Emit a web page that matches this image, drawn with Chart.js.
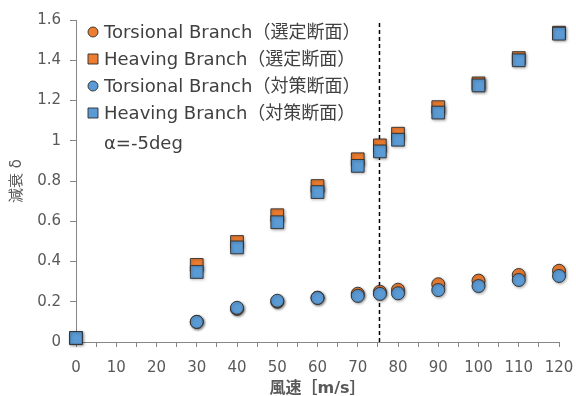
<!DOCTYPE html>
<html>
<head>
<meta charset="utf-8">
<script src="https://cdn.jsdelivr.net/npm/chart.js@4"></script>
<style>
  html, body { margin: 0; padding: 0; background: #fff; }
  #wrap { width: 576px; height: 396px; }
</style>
</head>
<body>
<div id="wrap"><canvas id="c"></canvas></div>
<script>
// wind speed [m/s]
const speeds = [0, 30, 40, 50, 60, 70, 75.5, 80, 90, 100, 110, 120];
// damping δ
const torsionSel = [null, 0.10, 0.165, 0.20, 0.22, 0.24, 0.25, 0.26, 0.287, 0.305, 0.333, 0.354];
const heaveSel   = [0.02, 0.383, 0.497, 0.63, 0.775, 0.908, 0.977, 1.035, 1.167, 1.285, 1.411, 1.537];
const torsionCtr = [null, 0.10, 0.17, 0.205, 0.219, 0.229, 0.239, 0.242, 0.258, 0.278, 0.308, 0.328];
const heaveCtr   = [0.02, 0.348, 0.47, 0.595, 0.745, 0.875, 0.947, 1.005, 1.14, 1.275, 1.40, 1.532];
const criticalSpeed = 75.4;
const yTicks = [0, 0.2, 0.4, 0.6, 0.8, 1, 1.2, 1.4, 1.6];
const legendNote = 'α=-5deg';

const FONT = "'DejaVu Sans', 'Noto Sans CJK JP', sans-serif";
const ORANGE = '#ED7D31', BLUE = '#5B9BD5', EDGE = 'rgba(45,45,45,0.9)';

const pts = (ys) => speeds.map((x, i) => ({ x: x, y: ys[i] })).filter(p => p.y !== null);

function series(label, ys, color, style, order) {
  return {
    label: label, data: pts(ys), showLine: false, clip: false, order: order,
    pointStyle: style, pointRadius: style === 'rect' ? 9 : 6.5,
    pointBackgroundColor: color, pointBorderColor: EDGE, pointBorderWidth: 1,
    inLegend: true
  };
}

// soft shadow under the markers like the spreadsheet original
const markerShadow = {
  id: 'markerShadow',
  beforeDatasetDraw(chart, args) {
    const ds = chart.data.datasets[args.index];
    if (!ds.inLegend) return;
    const ctx = chart.ctx;
    ctx.save();
    ctx.shadowColor = 'rgba(0,0,0,0.35)';
    ctx.shadowBlur = 3;
    ctx.shadowOffsetX = 1;
    ctx.shadowOffsetY = 1;
  },
  afterDatasetDraw(chart, args) {
    const ds = chart.data.datasets[args.index];
    if (ds.inLegend) chart.ctx.restore();
  }
};

// legend inside the plot, top-left
const innerLegend = {
  id: 'innerLegend',
  afterDraw(chart) {
    const ctx = chart.ctx;
    const x0 = 93, y0 = 32, step = 27;
    ctx.save();
    ctx.font = '18px ' + FONT;
    ctx.textBaseline = 'middle';
    ctx.textAlign = 'left';
    const items = chart.data.datasets.filter(d => d.inLegend);
    items.forEach((d, i) => {
      const y = y0 + i * step;
      ctx.fillStyle = d.pointBackgroundColor;
      ctx.strokeStyle = EDGE;
      ctx.lineWidth = 1;
      ctx.beginPath();
      if (d.pointStyle === 'rect') ctx.rect(x0 - 5, y - 5, 10, 10);
      else ctx.arc(x0, y, 5, 0, Math.PI * 2);
      ctx.fill();
      ctx.stroke();
      ctx.fillStyle = '#404040';
      ctx.fillText(d.label, 104, y + 1);
    });
    ctx.fillText(legendNote, 104, y0 + items.length * step + 4);
    ctx.restore();
  }
};

new Chart(document.getElementById('c'), {
  type: 'scatter',
  data: {
    datasets: [
      series('Torsional Branch（選定断面）', torsionSel, ORANGE, 'circle', 4),
      series('Heaving Branch（選定断面）', heaveSel, ORANGE, 'rect', 3),
      series('Torsional Branch（対策断面）', torsionCtr, BLUE, 'circle', 2),
      series('Heaving Branch（対策断面）', heaveCtr, BLUE, 'rect', 1),
      {
        label: 'critical', type: 'line', order: 5,
        data: [{ x: criticalSpeed, y: 0 }, { x: criticalSpeed, y: 1.6 }],
        borderColor: '#000', borderWidth: 1.5, borderDash: [4, 3], pointRadius: 0, clip: false
      }
    ]
  },
  options: {
    responsive: true, maintainAspectRatio: false, animation: false,
    layout: { padding: { top: 20, right: 17, left: 0, bottom: 0 } },
    plugins: { legend: { display: false }, tooltip: { enabled: false } },
    scales: {
      x: {
        type: 'linear', min: 0, max: 120,
        afterFit: (s) => { s.height = 54; s.paddingLeft = 0; s.paddingRight = 0; },
        grid: { drawOnChartArea: false, color: '#868686', tickLength: 5 },
        border: { color: '#868686', width: 1 },
        ticks: {
          stepSize: 5, autoSkip: false, maxRotation: 0, padding: 12,
          color: '#595959', font: { family: FONT, size: 15 },
          callback: (v) => (v % 10 === 0 ? String(v) : '')
        },
        title: {
          display: true, text: '風速［m/s］', color: '#595959',
          font: { family: FONT, size: 16, weight: 'bold' }, padding: { top: 0, bottom: -2 }
        }
      },
      y: {
        type: 'linear', min: 0, max: 1.6,
        afterFit: (s) => { s.width = 76; s.paddingTop = 0; s.paddingBottom = 0; },
        afterBuildTicks: (s) => { s.ticks = yTicks.map(v => ({ value: v })); },
        grid: { drawOnChartArea: false, color: '#868686', tickLength: 6 },
        border: { color: '#868686', width: 1 },
        ticks: {
          padding: 9, color: '#595959', font: { family: FONT, size: 15 },
          callback: (v) => String(parseFloat(v.toFixed(1)))
        },
        title: {
          display: true, text: '減衰 δ', color: '#595959',
          font: { family: FONT, size: 15 }, padding: { top: 8, bottom: 0 }
        }
      }
    }
  },
  plugins: [markerShadow, innerLegend]
});
</script>
</body>
</html>
